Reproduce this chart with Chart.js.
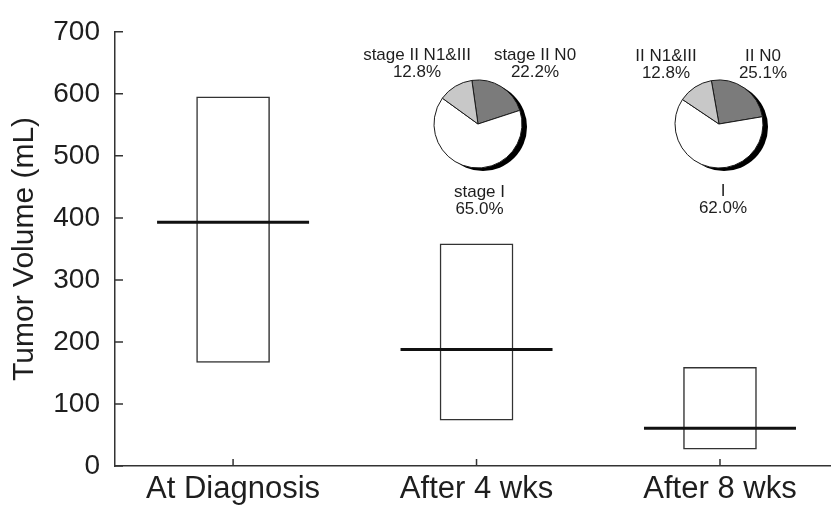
<!DOCTYPE html>
<html>
<head>
<meta charset="utf-8">
<title>Tumor Volume</title>
<script src="https://cdn.jsdelivr.net/npm/chart.js@4.4.0/dist/chart.umd.min.js"></script>
<style>
    body { margin: 0; background: #fff; }
    #wrap { position: relative; width: 831px; height: 506px; }
    #wrap canvas { position: absolute; }
</style>
</head>
<body>
<div id="wrap">
    <canvas id="volumeChart" width="831" height="506" style="left:0;top:0"></canvas>
    <canvas id="pie4wks" width="240" height="210" style="left:358px;top:19px"></canvas>
    <canvas id="pie8wks" width="240" height="210" style="left:599px;top:19px"></canvas>
</div>
<script>
const timepoints = ['At Diagnosis', 'After 4 wks', 'After 8 wks'];
const timeX = [1, 2, 3];
const volumeLow = [167, 74, 27];
const volumeHigh = [595, 358, 159];
const volumeMedian = [393, 188, 61];
const yTicks = [0, 100, 200, 300, 400, 500, 600, 700];

const stageLabels4wks = ['stage II N0', 'stage I', 'stage II N1&III'];
const stageShares4wks = [22.2, 65.0, 12.8];
const stageLabels8wks = ['II N0', 'I', 'II N1&III'];
const stageShares8wks = [25.1, 62.0, 12.8];
const stageColors = ['#7b7b7b', '#ffffff', '#c8c8c8'];

const FONT = "'Liberation Sans', Arial, Helvetica, sans-serif";
const INK = '#1e1e1e';

Chart.defaults.font.family = FONT;
Chart.defaults.color = INK;

// tick marks point into the plot, so draw them by hand
const innerTicks = {
    id: 'innerTicks',
    afterDraw(chart) {
        const { ctx, chartArea: area, scales: { x, y } } = chart;
        ctx.save();
        ctx.strokeStyle = '#333';
        ctx.lineWidth = 1.5;
        ctx.beginPath();
        y.ticks.forEach(t => {
            const py = y.getPixelForValue(t.value);
            ctx.moveTo(area.left, py);
            ctx.lineTo(area.left + 8, py);
        });
        x.ticks.forEach(t => {
            const px = x.getPixelForValue(t.value);
            ctx.moveTo(px, area.bottom);
            ctx.lineTo(px, area.bottom - 7);
        });
        ctx.stroke();
        ctx.restore();
    }
};

new Chart(document.getElementById('volumeChart'), {
    type: 'bar',
    data: {
        datasets: [{
            type: 'scatter',
            label: 'Median',
            data: timeX.map((x, i) => ({ x: x, y: volumeMedian[i] })),
            pointStyle: 'line',
            pointRadius: 76,
            pointBorderWidth: 3,
            pointBorderColor: '#111',
            clip: false,
            order: 1
        }, {
            label: 'Range',
            data: timeX.map((x, i) => ({ x: x, y: [volumeLow[i], volumeHigh[i]] })),
            backgroundColor: '#fff',
            borderColor: '#333',
            borderWidth: 1.5,
            borderSkipped: false,
            barThickness: 73,
            order: 2
        }]
    },
    options: {
        responsive: false,
        animation: false,
        events: [],
        layout: { autoPadding: false, padding: { top: 22, right: 0, bottom: 0, left: 0 } },
        plugins: { legend: { display: false }, tooltip: { enabled: false } },
        scales: {
            x: {
                type: 'linear',
                offset: false,
                min: 0.515,
                max: 3.456,
                afterBuildTicks: s => { s.ticks = timeX.map(v => ({ value: v })); },
                afterFit: s => { s.height = 40; },
                grid: { display: false, drawTicks: false, offset: false },
                border: { display: true, color: '#333', width: 1.5 },
                ticks: {
                    padding: 5,
                    font: { size: 31 },
                    color: INK,
                    callback: v => timepoints[timeX.indexOf(v)]
                }
            },
            y: {
                min: 0,
                max: 700,
                afterBuildTicks: s => { s.ticks = yTicks.map(v => ({ value: v })); },
                afterFit: s => { s.width = 115; },
                grid: { display: false, drawTicks: false },
                border: { display: true, color: '#333', width: 1.5 },
                ticks: { padding: 15, font: { size: 28 }, color: INK },
                title: {
                    display: true,
                    text: 'Tumor Volume (mL)',
                    font: { size: 30 },
                    color: INK,
                    padding: { top: 7, bottom: 0 }
                }
            }
        }
    },
    plugins: [innerTicks]
});

// black crescent behind each pie plus the stage labels around it
const pieDecor = {
    id: 'pieDecor',
    beforeDatasetsDraw(chart, args, opts) {
        const arc = chart.getDatasetMeta(0).data[0];
        const ctx = chart.ctx;
        ctx.save();
        ctx.fillStyle = '#000';
        ctx.beginPath();
        ctx.arc(arc.x + 5, arc.y + 3, arc.outerRadius, 0, Math.PI * 2);
        ctx.fill();
        ctx.restore();
    },
    afterDatasetsDraw(chart, args, opts) {
        const arc = chart.getDatasetMeta(0).data[0];
        const ctx = chart.ctx;
        const values = chart.data.datasets[0].data;
        ctx.save();
        ctx.font = '17px ' + FONT;
        ctx.fillStyle = INK;
        ctx.textAlign = 'center';
        ctx.textBaseline = 'alphabetic';
        chart.data.labels.forEach((lbl, i) => {
            const [dx, dy] = opts.spots[i];
            ctx.fillText(lbl, arc.x + dx, arc.y + dy);
            ctx.fillText(values[i].toFixed(1) + '%', arc.x + dx, arc.y + dy + 17);
        });
        ctx.restore();
    }
};

function makePie(canvasId, labels, shares, rotation, spots) {
    return new Chart(document.getElementById(canvasId), {
        type: 'pie',
        data: {
            labels: labels,
            datasets: [{
                data: shares,
                backgroundColor: stageColors,
                borderColor: '#1a1a1a',
                borderWidth: 1
            }]
        },
        options: {
            responsive: false,
            animation: false,
            events: [],
            rotation: rotation,
            radius: 44,
            plugins: {
                legend: { display: false },
                tooltip: { enabled: false },
                pieDecor: { spots: spots }
            }
        },
        plugins: [pieDecor]
    });
}

makePie('pie4wks', stageLabels4wks, stageShares4wks, -8,
    [[57, -64], [1.5, 72.5], [-61, -64]]);
makePie('pie8wks', stageLabels8wks, stageShares8wks, -10,
    [[44, -63], [4, 71.5], [-53, -63]]);
</script>
</body>
</html>
